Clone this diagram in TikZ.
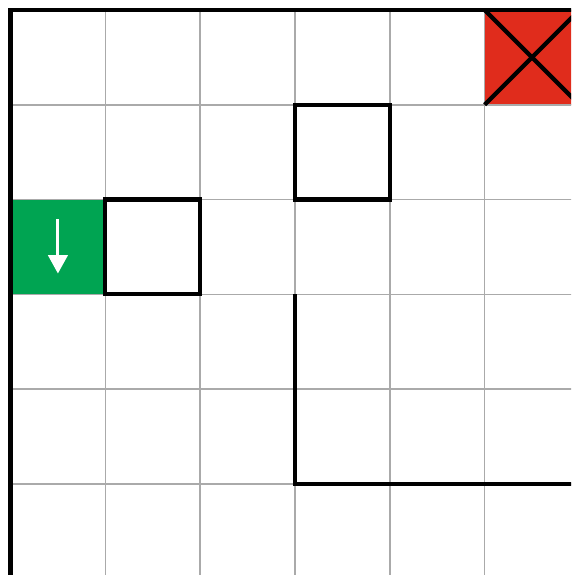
\documentclass[tikz,border=0pt]{standalone}
\usetikzlibrary{arrows.meta}
\definecolor{goalred}{RGB}{224,44,28}
\definecolor{startgreen}{RGB}{0,164,82}
\definecolor{gridgray}{RGB}{170,170,170}
\begin{document}
\begin{tikzpicture}[
  cell/.style={minimum size=1cm, inner sep=0pt, outer sep=0pt},
  gridline/.style={gridgray, line width=0.45pt},
  wall/.style={line width=1.25pt},
  border/.style={line width=1.4pt},
  arrow/.style={white, line width=0.9pt, -{Triangle[width=5.8pt,length=5.5pt]}}
]
\useasboundingbox (-0.111,0.105) rectangle (5.913,-5.96);
\clip (-0.111,0.105) rectangle (5.913,-5.96);
% start and goal cells
\node[cell, fill=startgreen] (start) at (0.5,-2.5) {};
\node[cell, fill=goalred] (goal) at (5.5,-0.5) {};
% board
\draw[gridline] (0,-6) grid (6,0);
\draw[wall] (goal.north west) -- (goal.south east);
\draw[wall] (goal.south west) -- (goal.north east);
\draw[wall] (1,-2) rectangle (2,-3);
\draw[wall] (3,-1) rectangle (4,-2);
\draw[wall] (3,-3) -- (3,-5) -- (6.2,-5);
\draw[border] (0,-6.2) -- (0,0) -- (6.2,0);
% move
\coordinate (arrtop) at (0.5,-2.21);
\coordinate (arrtip) at (0.5,-2.78);
\draw[arrow] (arrtop) -- (arrtip);
\end{tikzpicture}
\end{document}
